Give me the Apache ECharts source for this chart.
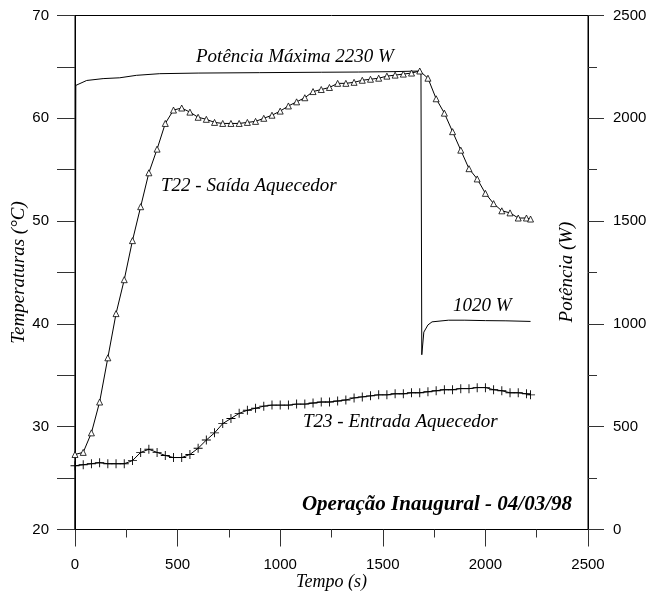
<!doctype html>
<html lang="pt">
  <head>
    <meta charset="utf-8">
    <title>Operação Inaugural</title>
    <script src="https://cdn.jsdelivr.net/npm/echarts@6/dist/echarts.min.js"></script>
    <style>
      html, body {
        width: 100%;
        height: 100%;
        margin: 0;
        background: #fff;
      }

      #chart {
        width: 650px;
        height: 592px;
      }
    </style>
  </head>
  <body>
    <div id="chart"></div>
    <script>
      // sample times (s) shared by both temperature curves
      const times = [0, 40, 80, 120, 160, 200, 240, 280, 320, 360, 400, 440, 480, 520, 560, 600,
        640, 680, 720, 760, 800, 840, 880, 920, 960, 1000, 1040, 1080, 1120, 1160, 1200, 1240,
        1280, 1320, 1360, 1400, 1440, 1480, 1520, 1560, 1600, 1640, 1680, 1720, 1760, 1800, 1840,
        1880, 1920, 1960, 2000, 2040, 2080, 2120, 2160, 2200, 2220];

      // T22 - Saída Aquecedor (°C)
      const t22 = [27.3, 27.5, 29.4, 32.4, 36.7, 41.0, 44.3, 48.1, 51.4, 54.7, 57.0, 59.5, 60.8, 61.0,
        60.6, 60.1, 59.9, 59.6, 59.5, 59.5, 59.5, 59.6, 59.7, 60.0, 60.3, 60.7, 61.2, 61.6, 62.0,
        62.6, 62.8, 63.0, 63.4, 63.4, 63.5, 63.7, 63.8, 63.9, 64.1, 64.2, 64.3, 64.4, 64.6, 63.9,
        61.9, 60.5, 58.7, 56.9, 55.1, 54.1, 52.7, 51.7, 51.0, 50.8, 50.3, 50.3, 50.2];

      // T23 - Entrada Aquecedor (°C)
      const t23 = [26.2, 26.3, 26.4, 26.5, 26.4, 26.4, 26.4, 26.7, 27.5, 27.8, 27.5, 27.2, 27.0, 27.0,
        27.3, 27.9, 28.7, 29.4, 30.3, 30.8, 31.3, 31.6, 31.8, 32.0, 32.1, 32.1, 32.1, 32.2, 32.2,
        32.3, 32.4, 32.4, 32.5, 32.6, 32.8, 32.9, 33.0, 33.1, 33.1, 33.2, 33.2, 33.3, 33.3, 33.4,
        33.5, 33.6, 33.6, 33.7, 33.7, 33.8, 33.8, 33.6, 33.5, 33.3, 33.3, 33.2, 33.1];

      // heater power (W)
      const powerTime = [0, 3, 4, 57, 137, 218, 299, 413, 600, 898, 1200, 1383, 1550, 1686,
        1690, 1700, 1720, 1740, 1820, 1900, 2000, 2100, 2220];
      const powerValue = [0, 0, 2160, 2184, 2193, 2197, 2209, 2217, 2220, 2222, 2224, 2225, 2227, 2230,
        850, 960, 995, 1010, 1018, 1018, 1016, 1015, 1012];

      const serif = 'Liberation Serif';
      const sans = 'Liberation Sans';

      const pairs = (xs, ys) => xs.map((x, i) => [x, ys[i]]);
      const plain = (v) => String(v);

      const chart = echarts.init(document.getElementById('chart'), null, {renderer: 'canvas'});

      const axisLine = {lineStyle: {color: '#000', width: 1}};
      const tickStyle = {color: '#333', width: 1};

      const option = {
        animation: false,
        backgroundColor: '#fff',
        grid: {
          left: 75,
          right: 62,
          top: 15.5,
          bottom: 62.5,
          containLabel: false,
          outerBoundsMode: 'none',
          show: true,
          borderColor: '#000',
          borderWidth: 1
        },
        xAxis: {
          type: 'value',
          min: 0,
          max: 2500,
          interval: 500,
          name: 'Tempo (s)',
          nameLocation: 'middle',
          nameGap: 44,
          nameMoveOverlap: false,
          nameTextStyle: {fontFamily: serif, fontStyle: 'italic', fontSize: 18, color: '#000'},
          axisLine: axisLine,
          axisTick: {length: 17, lineStyle: tickStyle},
          minorTick: {show: true, splitNumber: 2, length: 8, lineStyle: tickStyle},
          splitLine: {show: false},
          axisLabel: {fontFamily: sans, fontSize: 15, color: '#000', margin: 28, formatter: plain}
        },
        yAxis: [
          {
            type: 'value',
            min: 20,
            max: 70,
            interval: 10,
            name: 'Temperaturas (°C)',
            nameLocation: 'middle',
            nameGap: 47,
            nameMoveOverlap: false,
            nameTextStyle: {fontFamily: serif, fontStyle: 'italic', fontSize: 19, color: '#000'},
            axisLine: axisLine,
            axisTick: {length: 18, lineStyle: tickStyle},
            minorTick: {show: true, splitNumber: 2, length: 18, lineStyle: tickStyle},
            splitLine: {show: false},
            axisLabel: {fontFamily: sans, fontSize: 15, color: '#000', margin: 26, formatter: plain}
          },
          {
            type: 'value',
            position: 'right',
            min: 0,
            max: 2500,
            interval: 500,
            axisLine: axisLine,
            axisTick: {length: 16, lineStyle: tickStyle},
            minorTick: {show: true, splitNumber: 2, length: 9, lineStyle: tickStyle},
            splitLine: {show: false},
            axisLabel: {fontFamily: sans, fontSize: 15, color: '#000', margin: 25, formatter: plain}
          }
        ],
        series: [
          {
            name: 'Potência',
            type: 'line',
            yAxisIndex: 1,
            showSymbol: false,
            symbol: 'none',
            lineStyle: {color: '#000', width: 1},
            data: pairs(powerTime, powerValue)
          },
          {
            name: 'T22',
            type: 'line',
            yAxisIndex: 0,
            symbol: 'triangle',
            symbolSize: 6,
            itemStyle: {color: '#fff', borderColor: '#000', borderWidth: 0.8},
            lineStyle: {color: '#000', width: 1},
            data: pairs(times, t22)
          },
          {
            name: 'T23',
            type: 'line',
            yAxisIndex: 0,
            symbol: 'path://M4.5,0H5.5V4.5H10V5.5H5.5V10H4.5V5.5H0V4.5H4.5Z',
            symbolSize: 9,
            itemStyle: {color: '#000'},
            lineStyle: {color: '#000', width: 1},
            data: pairs(times, t23)
          }
        ],
        graphic: [
          {
            type: 'text', x: 196, y: 57,
            style: {text: 'Potência Máxima 2230 W', font: 'italic 19px "Liberation Serif"', fill: '#000', verticalAlign: 'middle'}
          },
          {
            type: 'text', x: 161, y: 186,
            style: {text: 'T22 - Saída Aquecedor', font: 'italic 19px "Liberation Serif"', fill: '#000', verticalAlign: 'middle'}
          },
          {
            type: 'text', x: 453, y: 306,
            style: {text: '1020 W', font: 'italic 19px "Liberation Serif"', fill: '#000', verticalAlign: 'middle'}
          },
          {
            type: 'text', x: 303, y: 422,
            style: {text: 'T23 - Entrada Aquecedor', font: 'italic 19px "Liberation Serif"', fill: '#000', verticalAlign: 'middle'}
          },
          {
            type: 'text', x: 572, y: 505,
            style: {text: 'Operação Inaugural - 04/03/98', font: 'italic bold 21px "Liberation Serif"', fill: '#000', align: 'right', verticalAlign: 'middle'}
          },
          {
            type: 'text', x: 567, y: 272, rotation: Math.PI / 2,
            style: {text: 'Potência (W)', font: 'italic 19px "Liberation Serif"', fill: '#000', align: 'center', verticalAlign: 'middle'}
          }
        ]
      };

      chart.setOption(option);
    </script>
  </body>
</html>
